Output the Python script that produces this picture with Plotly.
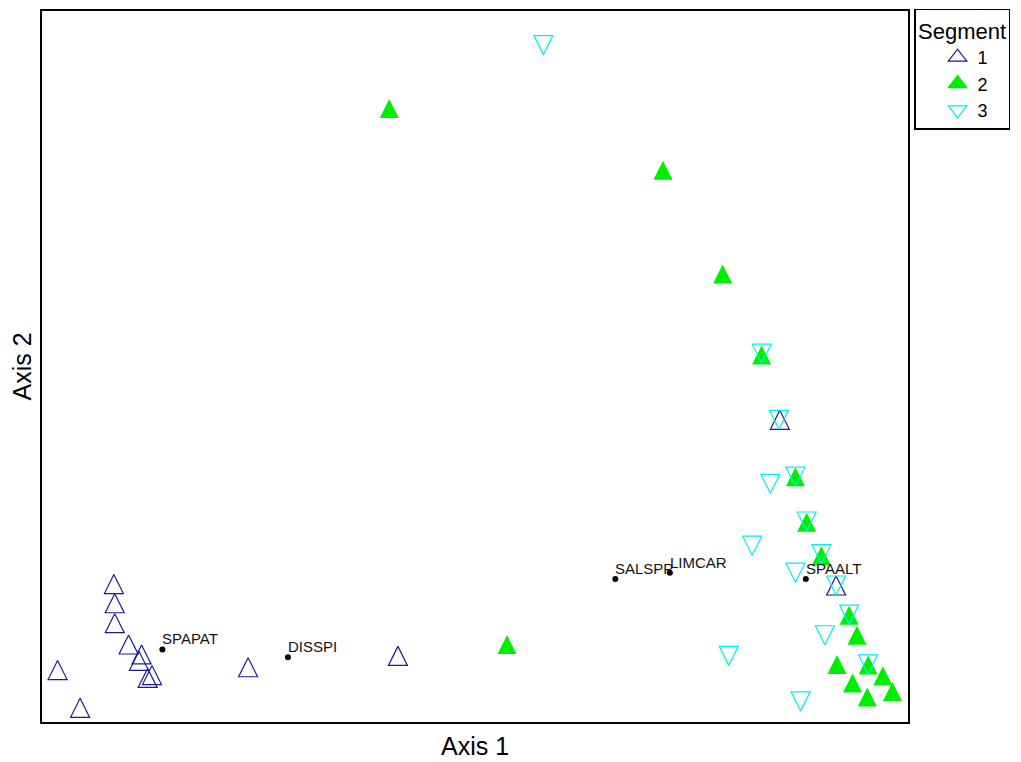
import plotly.graph_objects as go

# Ordination scores (arbitrary units, axes have no ticks)
seg1_x = [8.3, 8.4, 8.4, 10.0, 11.5, 11.2, 12.7, 12.2, 1.8, 4.4, 23.8, 41.1, 85.2, 91.7]
seg1_y = [19.4, 16.7, 13.9, 10.9, 9.5, 8.6, 6.6, 6.2, 7.3, 2.0, 7.7, 9.3, 42.5, 19.2]

seg2_x = [40.1, 71.7, 78.6, 83.1, 87.0, 88.3, 90.0, 93.2, 94.1, 91.8, 95.4, 97.1, 93.6, 98.2, 95.3, 53.7]
seg2_y = [86.3, 77.6, 63.0, 51.6, 34.5, 28.1, 23.4, 15.0, 12.2, 8.1, 8.0, 6.5, 5.5, 4.3, 3.5, 10.9]

seg3_x = [57.9, 83.1, 85.1, 84.1, 87.0, 82.0, 88.3, 90.0, 87.0, 91.7, 93.2, 90.4, 79.3, 95.4, 87.6]
seg3_y = [95.2, 51.8, 42.5, 33.5, 34.5, 24.8, 28.2, 23.6, 21.0, 19.2, 15.1, 12.2, 9.3, 8.1, 2.9]

species = ["SPAPAT", "DISSPI", "SALSPP", "LIMCAR", "SPAALT"]
species_x = [13.9, 28.4, 66.2, 72.5, 88.2]
species_y = [10.2, 9.1, 20.1, 21.0, 20.1]

segments = ["1", "2", "3"]

FONT = "Arial, Liberation Sans, sans-serif"
MS = 19
BLUE = "#1a1a96"
GREEN = "#00ee00"
CYAN = "#00eef5"

# isosceles triangle markers centred on the point:
# arrow-down (tip at point) shifted by half its height via standoff
UP = dict(angle=180, standoff=MS / 2)
DOWN = dict(angle=0, standoff=MS / 2)

fig = go.Figure()

fig.add_trace(go.Scatter(
    x=seg1_x, y=seg1_y, mode="markers", showlegend=False, hoverinfo="skip",
    marker=dict(symbol="arrow-down-open", size=MS, color=BLUE,
                line=dict(width=1.2, color=BLUE), **UP)))
fig.add_trace(go.Scatter(
    x=seg2_x, y=seg2_y, mode="markers", showlegend=False, hoverinfo="skip",
    marker=dict(symbol="arrow-down", size=MS, color=GREEN,
                line=dict(width=0), **UP)))
fig.add_trace(go.Scatter(
    x=seg3_x, y=seg3_y, mode="markers", showlegend=False, hoverinfo="skip",
    marker=dict(symbol="arrow-down-open", size=MS, color=CYAN,
                line=dict(width=1.2, color=CYAN), **DOWN)))

# species points
fig.add_trace(go.Scatter(
    x=species_x, y=species_y, mode="markers", showlegend=False, hoverinfo="skip",
    marker=dict(color="black", size=6)))

# species labels
for name, sx, sy in zip(species, species_x, species_y):
    fig.add_annotation(x=sx, y=sy, text=name, showarrow=False,
                       xanchor="left", yanchor="bottom", xshift=-2, yshift=0,
                       font=dict(family=FONT, size=15, color="#111111"))

# legend-only traces (names padded so the box is as wide as the original)
leg_syms = [("triangle-up-open", BLUE), ("triangle-up", GREEN), ("triangle-down-open", CYAN)]
for name, (sym, col) in zip(segments, leg_syms):
    fig.add_trace(go.Scatter(
        x=[None], y=[None], mode="markers", name=name + "\u00a0" * 3,
        marker=dict(symbol=sym, size=16, color=col, line=dict(width=1.2, color=col))))

# page body has an 8px margin; figure is sized/placed to compensate
fig.update_layout(
    width=1013, height=754,
    margin=dict(l=34, r=113, t=1, b=40),
    paper_bgcolor="white", plot_bgcolor="white",
    font=dict(family=FONT, color="black"),
    xaxis=dict(range=[0, 100], showticklabels=False, ticks="", showgrid=False,
               zeroline=False, showline=True, mirror=True, linecolor="black",
               linewidth=2, title=dict(text="Axis 1", font=dict(size=25), standoff=14)),
    yaxis=dict(range=[0, 100], showticklabels=False, ticks="", showgrid=False,
               zeroline=False, showline=True, mirror=True, linecolor="black",
               linewidth=2, title=dict(text="Axis 2", font=dict(size=25), standoff=3)),
    legend=dict(x=1.007, xanchor="left", y=1.003, yanchor="top",
                bordercolor="black", borderwidth=1.5, bgcolor="white",
                font=dict(size=18, family=FONT), indentation=22,
                title=dict(text="Segment", side="top center",
                           font=dict(size=22, family=FONT)),
                itemsizing="trace", tracegroupgap=0),
)

fig.write_html("out.html")
